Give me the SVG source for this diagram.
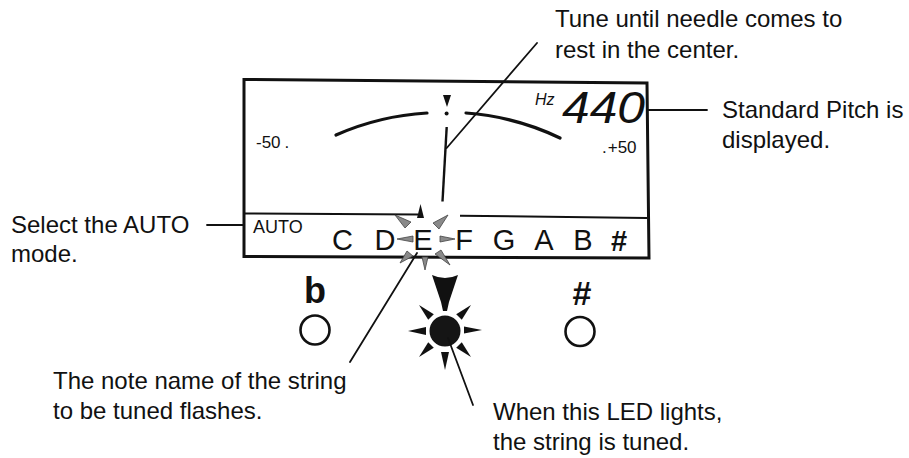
<svg xmlns="http://www.w3.org/2000/svg" width="909" height="458" viewBox="0 0 909 458">
<style>
.lbl{font-family:"Liberation Sans",Arial,sans-serif;font-size:24px;fill:#111}
.small{font-family:"Liberation Sans",Arial,sans-serif;font-size:17px;fill:#111}
.note{font-family:"Liberation Sans",Arial,sans-serif;font-size:29px;fill:#111;text-anchor:middle}
.conn{stroke:#111;stroke-width:1.8;fill:none;stroke-linecap:round}
.frame{stroke:#111;stroke-width:3;fill:none;stroke-linejoin:miter}
.arc{stroke:#111;stroke-width:3.2;fill:none;stroke-linecap:round}
.ray{fill:#8a8a8a;stroke:#444;stroke-width:0.8}
.led-ray{fill:#111}
.ring{fill:none;stroke:#111;stroke-width:2.6}
</style>
<rect width="909" height="458" fill="#fff"/>

<g id="display">
  <path class="frame" d="M244,79.5 L647,83 L649,258 L244,256.5 Z"/>
  <path d="M244,213.5 L418,214.5 M460,215.7 L647,218" stroke="#111" stroke-width="2" fill="none"/>
  <path class="arc" d="M336,135 A263 263 0 0 1 427,113"/>
  <path class="arc" d="M466,113 A263 263 0 0 1 560,138"/>
  <polygon points="443,95 451,95 447,107" fill="#111"/>
  <circle cx="446.6" cy="113.5" r="2" fill="#111"/>
  <line x1="446.7" y1="127" x2="442.5" y2="201.5" stroke="#111" stroke-width="2.4"/>
  <text class="small" x="256" y="148">-50<tspan dx="4">.</tspan></text>
  <text class="small" x="602" y="153">.<tspan dx="1">+50</tspan></text>
  <text x="535" y="105" font-family="Liberation Sans,Arial,sans-serif" font-size="16" font-style="italic" fill="#111">Hz</text>
  <text x="562" y="123" font-family="Liberation Sans,Arial,sans-serif" font-size="44" font-style="italic" fill="#111" textLength="83" lengthAdjust="spacingAndGlyphs">440</text>
  <text x="253" y="233" font-family="Liberation Sans,Arial,sans-serif" font-size="18" fill="#111">AUTO</text>
  <text class="note" x="342.5" y="250">C</text>
  <text class="note" x="385" y="250">D</text>
  <text class="note" x="423" y="250">E</text>
  <text class="note" x="464" y="250">F</text>
  <text class="note" x="504" y="250">G</text>
  <text class="note" x="544" y="250">A</text>
  <text class="note" x="583" y="250">B</text>
  <text class="note" x="619" y="251" font-weight="bold" font-size="26">#</text>
</g>

<g id="flash-rays">
  <polygon points="420.5,204 417,218 424,218" fill="#111"/>
  <polygon class="ray" points="395,215 411,222 405,228"/>
  <polygon class="ray" points="448,215 433,223 439,229"/>
  <polygon class="ray" points="397,239 413,236 413,242"/>
  <polygon class="ray" points="455,239 440,236 440,242"/>
  <polygon class="ray" points="400,263 407,251 413,256"/>
  <polygon class="ray" points="425,270 422,257 428,257"/>
  <polygon class="ray" points="450,265 435,254 441,250"/>
</g>

<g id="flat-led">
  <text x="315" y="303" text-anchor="middle" font-family="Liberation Sans,Arial,sans-serif" font-size="36" font-weight="bold" fill="#111">b</text>
  <circle class="ring" cx="315" cy="330" r="14.5"/>
</g>

<g id="sharp-led">
  <text x="582" y="305" text-anchor="middle" font-family="Liberation Sans,Arial,sans-serif" font-size="34" font-weight="bold" fill="#111">#</text>
  <circle class="ring" cx="580" cy="331.5" r="14.5"/>
</g>

<g id="tuned-led">
  <path d="M432,275 Q445,281 458,275 L449,302 L447,311 L443,311 L441,302 Z" fill="#111"/>
  <circle cx="445" cy="331" r="15.5" fill="#151515"/>
  <polygon class="led-ray" points="408,331 426,327 426,335"/>
  <polygon class="led-ray" points="482,330 464,326.5 464,333.5"/>
  <polygon class="led-ray" points="445,370 441,352 449,352"/>
  <polygon class="led-ray" points="419,305 433.8,314.2 428.2,319.8"/>
  <polygon class="led-ray" points="471,305 461.8,319.8 456.2,314.2"/>
  <polygon class="led-ray" points="419,357 428.2,342.2 433.8,347.8"/>
  <polygon class="led-ray" points="471,357 461.8,342.2 456.2,347.8"/>
</g>

<g id="connectors">
  <line class="conn" x1="537" y1="43" x2="446.7" y2="148"/>
  <line class="conn" x1="648" y1="110" x2="707" y2="110"/>
  <line class="conn" x1="207" y1="225" x2="244" y2="225"/>
  <line class="conn" x1="350" y1="362" x2="417" y2="253"/>
  <line class="conn" x1="448" y1="338" x2="473" y2="405"/>
</g>

<g id="label-tune">
  <text class="lbl" x="555" y="27">Tune until needle comes to</text>
  <text class="lbl" x="555" y="58">rest in the center.</text>
</g>
<g id="label-pitch">
  <text class="lbl" x="722" y="118">Standard Pitch is</text>
  <text class="lbl" x="722" y="148">displayed.</text>
</g>
<g id="label-auto">
  <text class="lbl" x="11" y="233">Select the AUTO</text>
  <text class="lbl" x="11" y="262">mode.</text>
</g>
<g id="label-note">
  <text class="lbl" x="53" y="389">The note name of the string</text>
  <text class="lbl" x="53" y="419">to be tuned flashes.</text>
</g>
<g id="label-led">
  <text class="lbl" x="493" y="420">When this LED lights,</text>
  <text class="lbl" x="493" y="450">the string is tuned.</text>
</g>
</svg>
